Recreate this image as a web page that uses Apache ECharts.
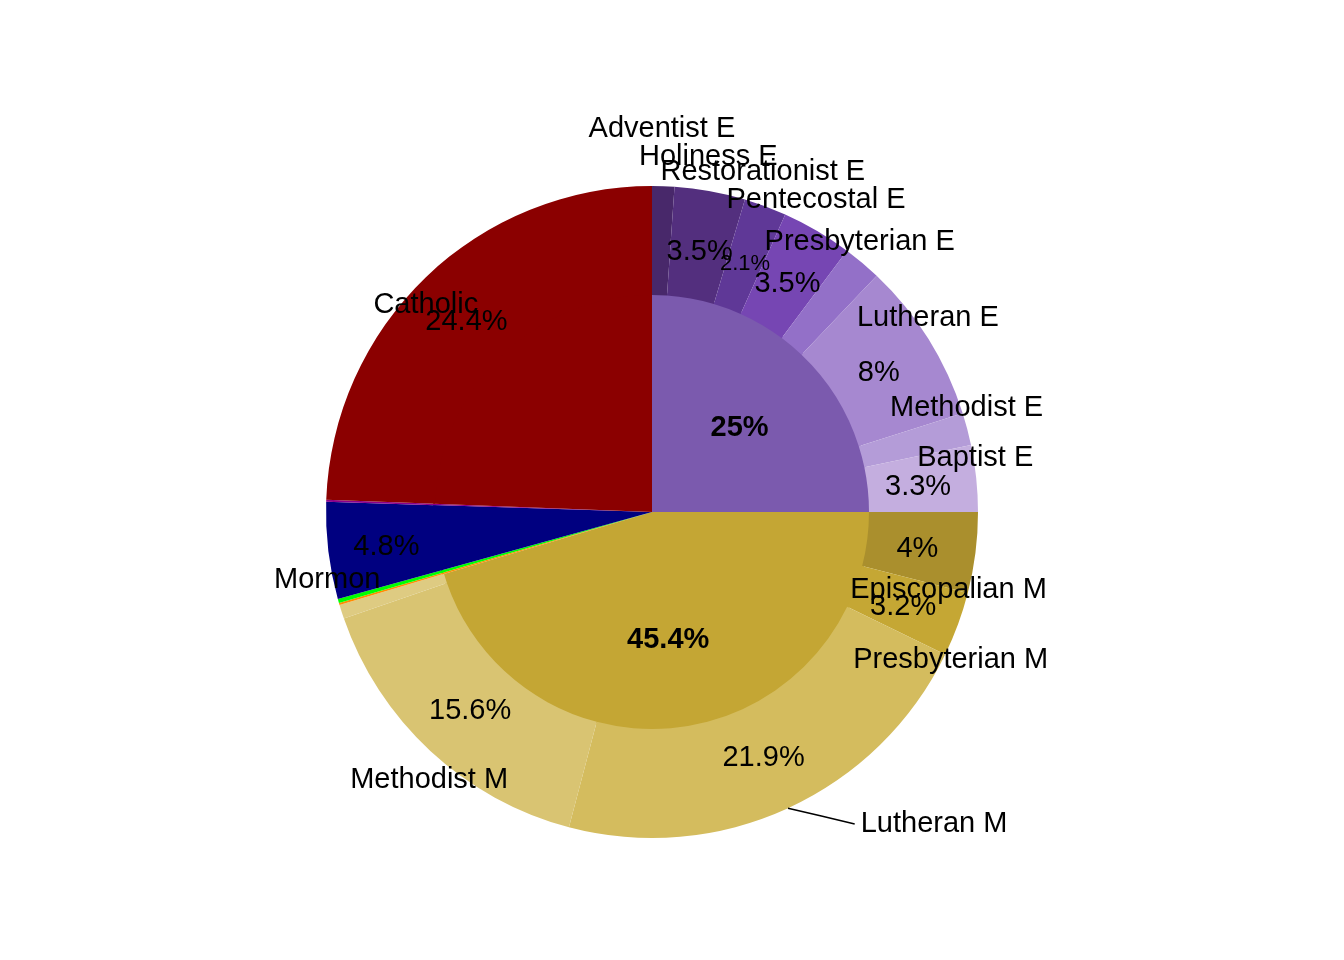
<!DOCTYPE html>
<html><head><meta charset="utf-8">
<script src="https://cdn.jsdelivr.net/npm/echarts/dist/echarts.min.js"></script>
<style>html,body{margin:0;padding:0;background:#fff}#c{width:1344px;height:960px}</style>
</head><body><div id="c"></div>
<script>
// ---- data ----
const innerCategories = ['Evangelical', 'Mainline', 'Orthodox', 'Other Christian', 'Mormon', "Jehovah's Witness", 'Catholic'];
const innerValues = [25, 45.4, 0.1, 0.2, 4.8, 0.1, 24.4];
const innerColors = ['#7B5AAE', '#C4A634', '#FF8C00', '#00FF00', '#000080', '#8B008B', '#8B0000'];
const innerLabelled = ['Evangelical', 'Mainline'];

const outerCategories = ['Adventist E', 'Holiness E', 'Restorationist E', 'Pentecostal E', 'Presbyterian E', 'Lutheran E', 'Methodist E', 'Baptist E',
  'Episcopalian M', 'Presbyterian M', 'Lutheran M', 'Methodist M', 'Other M',
  'Orthodox', 'Other Christian', 'Mormon', "Jehovah's Witness", 'Catholic'];
const outerValues = [1.1, 3.5, 2.1, 3.5, 1.9, 8, 1.6, 3.3,
  4, 3.2, 21.9, 15.6, 0.7,
  0.1, 0.2, 4.8, 0.1, 24.4];
const outerColors = ['#48286A', '#532F7E', '#5F3897', '#7646B3', '#9370C8', '#A688D0', '#B49CD8', '#C4AEDF',
  '#AA8F2D', '#C5A734', '#D4BC5E', '#D9C472', '#DECB82',
  '#FF8C00', '#00FF00', '#000080', '#8B008B', '#8B0000'];

// ---- label placement tweaks (text only) ----
const FONT = '"Liberation Sans", Arial, sans-serif';
const innerNudge = { 'Evangelical': [8, -4], 'Mainline': [0, 17] };
const nameNudge = {
  'Adventist E': [-1, -67], 'Holiness E': [0, -44], 'Restorationist E': [1, -44], 'Pentecostal E': [4, -40],
  'Presbyterian E': [4, -28], 'Lutheran E': [8, -26], 'Methodist E': [9, -23], 'Baptist E': [9, -21],
  'Episcopalian M': [-17, 38], 'Presbyterian M': [2, 39], 'Lutheran M': [4, 12], 'Methodist M': [-8, 36],
  'Mormon': [-11, 30], 'Catholic': [-7, 21]
};
const smallPct = { 'Restorationist E': 22 };
const PCT_PULL_IN = 7, PCT_DROP = 3;

const CENTER = [652, 512];
const R_IN = 217, R_OUT = 326;

const chart = echarts.init(document.getElementById('c'), null, { renderer: 'canvas' });

const innerData = innerCategories.map((n, i) => ({
  name: n, value: innerValues[i], itemStyle: { color: innerColors[i] },
  label: { show: innerLabelled.includes(n) }
}));
const outerData = outerCategories.map((n, i) => {
  const d = { name: n, value: outerValues[i], itemStyle: { color: outerColors[i] },
    label: { show: outerValues[i] >= 2 } };
  if (smallPct[n]) d.label.fontSize = smallPct[n];
  return d;
});
const nameData = outerCategories.map((n, i) => {
  const d = { name: n, value: outerValues[i], itemStyle: { color: 'rgba(0,0,0,0)' },
    label: { show: outerValues[i] >= 1 } };
  if (n === 'Lutheran M') {
    d.label.position = 'outside';
    d.labelLine = { show: true, length: 4, length2: 62, lineStyle: { color: '#000', width: 1.5 } };
  }
  return d;
});

const common = {
  type: 'pie', center: CENTER, startAngle: 90, clockwise: true, avoidLabelOverlap: false,
  silent: true, animation: false, emphasis: { disabled: true },
  itemStyle: { borderWidth: 0 }, labelLine: { show: false }
};

chart.setOption({
  backgroundColor: '#fff',
  animation: false,
  series: [
    Object.assign({}, common, {
      name: 'inner', radius: [0, R_IN + 2], data: innerData,
      label: { position: 'inside', formatter: p => p.value + '%', fontFamily: FONT, fontSize: 29, fontWeight: 'bold', color: '#000' },
      labelLayout: p => { const v = innerNudge[innerCategories[p.dataIndex]]; return v ? { dx: v[0], dy: v[1], hideOverlap: false } : { hideOverlap: false }; }
    }),
    Object.assign({}, common, {
      name: 'outer', radius: [R_IN, R_OUT], data: outerData,
      label: { position: 'inside', formatter: p => p.value + '%', fontFamily: FONT, fontSize: 29, color: '#000' },
      labelLayout: p => {
        const r = p.labelRect;
        const vx = r.x + r.width / 2 - CENTER[0], vy = r.y + r.height / 2 - CENTER[1];
        const d = Math.hypot(vx, vy) || 1;
        return { dx: -vx / d * PCT_PULL_IN, dy: -vy / d * PCT_PULL_IN + PCT_DROP, hideOverlap: false };
      }
    }),
    Object.assign({}, common, {
      name: 'names', radius: [300, R_OUT], data: nameData, z: 5,
      label: { position: 'inside', formatter: p => p.name, fontFamily: FONT, fontSize: 29, color: '#000' },
      labelLayout: p => {
        const v = nameNudge[outerCategories[p.dataIndex]];
        const out = v ? { dx: v[0], dy: v[1], hideOverlap: false } : { hideOverlap: false };
        const pts = p.labelLinePoints;
        if (v && pts && pts.length) {
          const r = p.labelRect;
          const ex = r.x + v[0] - 6, ey = r.y + r.height / 2 + v[1];
          const s = pts[0];
          out.labelLinePoints = [[s[0], s[1]], [(s[0] + ex) / 2, (s[1] + ey) / 2], [ex, ey]];
        }
        return out;
      }
    })
  ]
});
</script>
</body></html>
